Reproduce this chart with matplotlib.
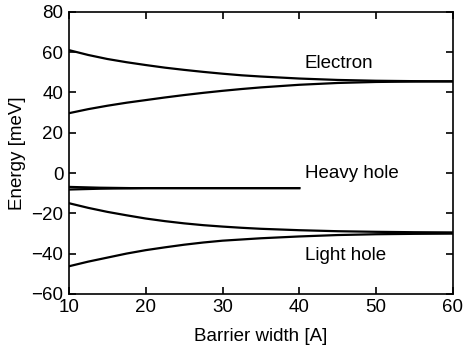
import matplotlib
matplotlib.use("Agg")
import matplotlib.pyplot as plt

plt.rcParams['font.family'] = ['Liberation Sans', 'DejaVu Sans']

width = [10, 12.5, 15, 17.5, 20, 22.5, 25, 27.5, 30, 32.5, 35, 40, 45, 50, 55, 60]
electron_upper = [61.0, 58.6, 56.6, 55.0, 53.6, 52.3, 51.2, 50.2, 49.3, 48.5, 47.9, 46.9, 46.2, 45.8, 45.6, 45.5]
electron_lower = [29.7, 31.7, 33.4, 34.9, 36.2, 37.5, 38.7, 39.8, 40.8, 41.7, 42.5, 43.8, 44.7, 45.2, 45.4, 45.5]

hh_width = [10, 12, 14, 16, 18, 20, 25, 30, 35, 40]
hh_upper = [-6.9, -7.1, -7.3, -7.4, -7.5, -7.5, -7.5, -7.5, -7.5, -7.5]
hh_lower = [-8.2, -8.0, -7.8, -7.7, -7.6, -7.5, -7.5, -7.5, -7.5, -7.5]

lh_upper = [-15.0, -17.3, -19.3, -21.0, -22.6, -23.9, -25.0, -25.9, -26.6, -27.2, -27.7, -28.4, -28.9, -29.2, -29.4, -29.5]
lh_lower = [-46.3, -44.0, -42.0, -40.0, -38.3, -36.9, -35.6, -34.5, -33.6, -33.0, -32.4, -31.5, -30.8, -30.4, -30.2, -30.1]

labels = ["Electron", "Heavy hole", "Light hole"]
label_x = [40.7, 40.7, 40.7]
label_y = [54.5, 0.0, -41.0]

fig = plt.figure(figsize=(4.63, 3.49), dpi=100)
ax = fig.add_axes([0.149, 0.158, 0.829, 0.808])

lw = 1.6
for y in (electron_upper, electron_lower, lh_upper, lh_lower):
    ax.plot(width, y, color='black', lw=lw)
ax.plot(hh_width, hh_upper, color='black', lw=lw)
ax.plot(hh_width, hh_lower, color='black', lw=lw)

for t, x, y in zip(labels, label_x, label_y):
    ax.text(x, y, t, fontsize=13.5, ha='left', va='center')

ax.set_xlim(10, 60)
ax.set_ylim(-60, 80)
ax.set_xticks([10, 20, 30, 40, 50, 60])
ax.set_yticks([-60, -40, -20, 0, 20, 40, 60, 80])
ax.set_yticklabels(['\u221260', '\u221240', '\u221220', '0', '20', '40', '60', '80'])
ax.tick_params(direction='in', length=5, width=1.2, top=True, right=True, labelsize=13.5, pad=4)
for s in ax.spines.values():
    s.set_linewidth(1.2)
ax.set_xlabel('Barrier width [A]', fontsize=13.5, labelpad=8.5)
ax.set_ylabel('Energy [meV]', fontsize=13.5, labelpad=4)

fig.savefig('out.png', dpi=100)
